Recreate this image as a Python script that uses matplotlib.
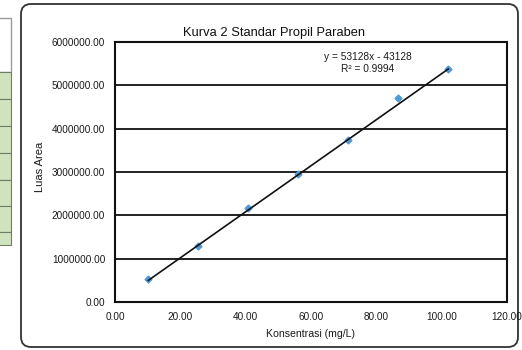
import numpy as np
import matplotlib
matplotlib.use('Agg')
import matplotlib.pyplot as plt
from matplotlib.patches import FancyBboxPatch, Rectangle

plt.rcParams['font.family'] = ['Liberation Sans', 'DejaVu Sans']

# data
konsentrasi = [10.2, 25.5, 40.8, 56.1, 71.4, 86.7, 102.0]
luas_area = [530000, 1290000, 2170000, 2950000, 3740000, 4710000, 5380000]
slope = 53128
intercept = -43128
r2 = 0.9994
xticks = [0, 20, 40, 60, 80, 100, 120]
yticks = [0, 1000000, 2000000, 3000000, 4000000, 5000000, 6000000]

W, H = 522, 350
fig = plt.figure(figsize=(W / 100, H / 100), dpi=100)

# background layer in pixel coords (table stub + rounded chart box)
bg = fig.add_axes([0, 0, 1, 1])
bg.set_xlim(0, W)
bg.set_ylim(H, 0)
bg.axis('off')

# cut off table on the left
row_edges = [72, 99, 126, 153, 180, 206, 232, 245]
bg.add_patch(Rectangle((-5, 18), 16, 54, facecolor='white', edgecolor='#9a9a9a', lw=1))
for top, bot in zip(row_edges[:-1], row_edges[1:]):
    bg.add_patch(Rectangle((-5, top), 16, bot - top, facecolor='#cfe3bd',
                           edgecolor='#6f7f66', lw=0.8))

box = FancyBboxPatch((21, 4), 497, 343, boxstyle='round,pad=0,rounding_size=10',
                     facecolor='white', edgecolor='#333333', lw=1.3)
bg.add_patch(box)

# plot area
x0, x1, y0, y1 = 115, 507, 42, 302
ax = fig.add_axes([x0 / W, 1 - y1 / H, (x1 - x0) / W, (y1 - y0) / H])
ax.set_xlim(0, 120)
ax.set_ylim(0, 6000000)
ax.set_xticks(xticks)
ax.set_yticks(yticks)
ax.set_xticklabels(['%.2f' % v for v in xticks], fontsize=7.2, color='#1a1a1a')
ax.set_yticklabels(['%.2f' % v for v in yticks], fontsize=7.2, color='#1a1a1a')
ax.tick_params(length=0, pad=7)
ax.grid(axis='y', color='#111111', lw=1.3)
for s in ax.spines.values():
    s.set_color('#111111')
    s.set_linewidth(1.5)

ax.plot(konsentrasi, luas_area, linestyle='none', marker='D', ms=3.5,
        color='#4f9ad8', zorder=3)
fit_x = np.array([konsentrasi[0], konsentrasi[-1]])
ax.plot(fit_x, slope * fit_x + intercept, color='#111111', lw=1.2, zorder=4)

ax.text(0.645, 0.96, 'y = %dx - %d\nR² = %.4f' % (slope, -intercept, r2),
        transform=ax.transAxes, ha='center', va='top', fontsize=7.3,
        color='#1a1a1a', linespacing=1.2)

fig.text(274 / W, 1 - 33 / H, 'Kurva 2 Standar Propil Paraben', ha='center',
         va='center', fontsize=9.3, color='#111111')
fig.text(311 / W, 1 - 334 / H, 'Konsentrasi (mg/L)', ha='center', va='center',
         fontsize=7.6, color='#1a1a1a')
fig.text(40 / W, 1 - 167 / H, 'Luas Area', ha='center', va='center',
         rotation=90, fontsize=8, color='#1a1a1a')

fig.savefig('out.png', dpi=100)
